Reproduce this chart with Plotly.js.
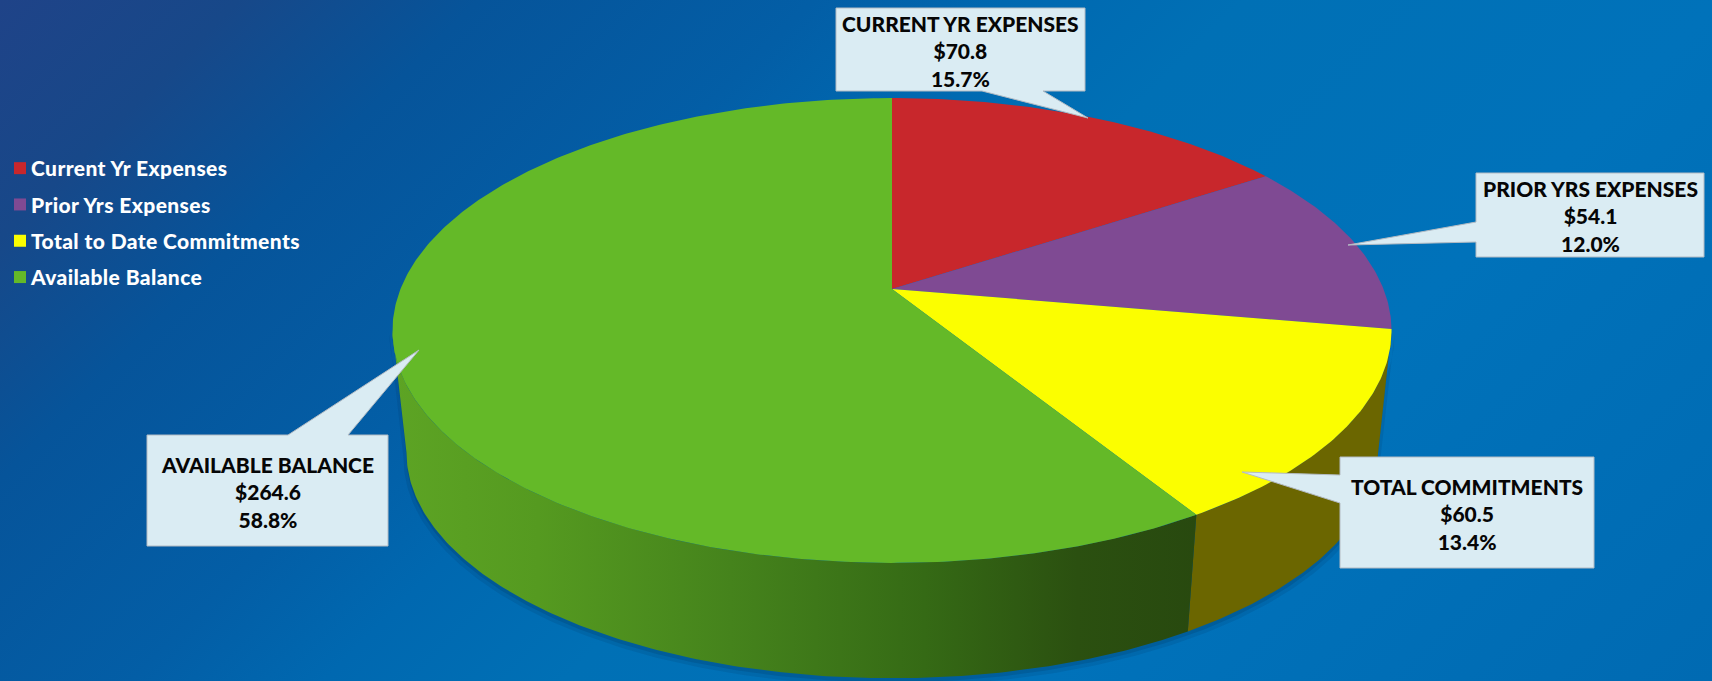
<!DOCTYPE html>
<html>
<head>
<meta charset="utf-8">
<script src="https://cdn.plot.ly/plotly-3.0.1.min.js"></script>
<style>
html,body{margin:0;padding:0;width:1712px;height:681px;overflow:hidden;
background:linear-gradient(135deg,#1f4388 0%,#174889 10%,#06549a 20%,#035ea6 34%,#0068b0 42%,#0070b5 52%,#0072ba 72%,#006ab2 100%);}
#chart{width:1712px;height:681px;}
.legendtext{letter-spacing:.4px;}
</style>
</head>
<body>
<div id="chart"></div>
<script>
// ---- data ----
const categories = ['Current Yr Expenses','Prior Yrs Expenses','Total to Date Commitments','Available Balance'];
const calloutNames = ['CURRENT YR EXPENSES','PRIOR YRS EXPENSES','TOTAL COMMITMENTS','AVAILABLE BALANCE'];
const values = [70.8,54.1,60.5,264.6];
const percentLabels = ['15.7%','12.0%','13.4%','58.8%'];
const topColors = ['#C8272C','#7F4A93','#FBFE00','#64B928'];
const wallColors = ['#5c1214','#3a2244','#6B6600','#4A8A1E'];

// ---- projection of the tilted disc ----
const apex = {x:892, y:289};
const A = 491.5, B = 225, K = 0.1785;
const wallDrop = 123, wallScale = 0.972;
const rightSilhouette = Math.acos(-K), leftSilhouette = 2*Math.PI - rightSilhouette;
function rim(angle, scale, drop){
  const u = Math.sin(angle), v = -Math.cos(angle), w = 1 - K*v;
  return [apex.x + scale*A*u/w, apex.y + drop + scale*B*v/w];
}
const total = values.reduce((a,b)=>a+b,0);
function arc(from,to,scale,drop){
  const pts=[], n=Math.max(8,Math.round((to-from)*90));
  for(let i=0;i<=n;i++) pts.push(rim(from+(to-from)*i/n,scale,drop));
  return pts;
}
let traces=[];
let acc=0; const bounds=values.map(v=>{const s=acc; acc+=v; return [s/total*2*Math.PI,acc/total*2*Math.PI];});

// soft shadow below the disc
[[1.006,6,.10],[1.0,4,.14],[.99,2,.18]].forEach(([s,d,o])=>{
  const up=arc(rightSilhouette,leftSilhouette,s,d*0.6), low=arc(rightSilhouette,leftSilhouette,wallScale*s,wallDrop+d).reverse();
  const p=up.concat(low); p.push(up[0]);
  traces.push({x:p.map(q=>q[0]),y:p.map(q=>q[1]),mode:'lines',fill:'toself',line:{width:0},
    fillcolor:'rgba(0,25,60,'+o+')',showlegend:false,hoverinfo:'skip'});
});

// walls of the slices on the near side, then top faces
bounds.forEach((b,i)=>{
  const from=Math.max(b[0],rightSilhouette), to=Math.min(b[1],leftSilhouette);
  if(to<=from) return;
  const up=arc(from,to,1,0), low=arc(from,to,wallScale,wallDrop).reverse();
  const p=up.concat(low); p.push(up[0]);
  const t={x:p.map(q=>q[0]),y:p.map(q=>q[1]),mode:'lines',fill:'toself',line:{width:0},
    fillcolor:wallColors[i],showlegend:false,hoverinfo:'skip'};
  if(i===3){
    t.fillgradient={type:'horizontal',start:393,stop:1198,colorscale:[
      [0,'#5DA424'],[.18,'#559A20'],[.42,'#45831C'],[.66,'#356A15'],[.85,'#2B5010'],[1,'#28490F']]};
  }
  traces.push(t);
});
bounds.forEach((b,i)=>{
  const p=[[apex.x,apex.y]].concat(arc(b[0],b[1],1,0)); p.push([apex.x,apex.y]);
  traces.push({x:p.map(q=>q[0]),y:p.map(q=>q[1]),mode:'lines',fill:'toself',line:{width:0},
    fillcolor:topColors[i],showlegend:false,hoverinfo:'text',text:categories[i]});
});

// legend entries
categories.forEach((c,i)=>{
  traces.push({x:[null],y:[null],mode:'markers',name:c,legendgroup:'g'+i,
    marker:{symbol:'square',size:12,color:topColors[i]}});
});

// callouts: box [x0,y0,x1,y1], tail [edge a, tip, edge b] in drawing order
const boxes=[[836,8,1085,91],[1476,173,1704,257],[1340,457,1594,568],[147,435,388,546]];
const tails=[
  {side:'bottom',a:[1043,91],tip:[1088,118],b:[982,91]},
  {side:'left',a:[1476,242],tip:[1348,245],b:[1476,222]},
  {side:'left',a:[1340,503],tip:[1242,472],b:[1340,475]},
  {side:'top',a:[288,435],tip:[419,350],b:[348,435]}
];
const shapes=boxes.map((r,i)=>{
  const [x0,y0,x1,y1]=r, t=tails[i]; let d='M'+x0+','+y0;
  const T=s=>s[0]+','+s[1];
  if(t.side==='top') d+=' L'+T(t.a)+' L'+T(t.tip)+' L'+T(t.b);
  d+=' L'+x1+','+y0+' L'+x1+','+y1;
  if(t.side==='bottom') d+=' L'+T(t.a)+' L'+T(t.tip)+' L'+T(t.b);
  d+=' L'+x0+','+y1;
  if(t.side==='left') d+=' L'+T(t.a)+' L'+T(t.tip)+' L'+T(t.b);
  d+=' Z';
  return {type:'path',path:d,xref:'x',yref:'y',layer:'above',fillcolor:'#DAECF3',line:{color:'#B3BBC3',width:1}};
});
const annotations=boxes.map((r,i)=>({
  x:(r[0]+r[2])/2,y:(r[1]+r[3])/2+1,xref:'x',yref:'y',xanchor:'center',yanchor:'middle',showarrow:false,align:'center',
  text:calloutNames[i]+'<br>$'+values[i].toFixed(1)+'<br>'+percentLabels[i],
  font:{family:'Lato, sans-serif',size:21,color:'#060606',weight:900}
}));

const layout={
  width:1712,height:681,margin:{l:0,r:0,t:0,b:0},
  paper_bgcolor:'rgba(0,0,0,0)',plot_bgcolor:'rgba(0,0,0,0)',
  xaxis:{range:[0,1712],visible:false,fixedrange:true},
  yaxis:{range:[681,0],visible:false,fixedrange:true},
  showlegend:true,
  legend:{x:0,xanchor:'left',y:1-148/681,yanchor:'top',bgcolor:'rgba(0,0,0,0)',tracegroupgap:6,
    font:{family:'Lato, sans-serif',size:21,color:'#FFFFFF',weight:900}},
  shapes:shapes,annotations:annotations
};
Plotly.newPlot('chart',traces,layout,{displayModeBar:false,staticPlot:true}).then(()=>{
  document.querySelectorAll('.legend .legendtext').forEach(t=>t.setAttribute('x','31'));
});
</script>
</body>
</html>
